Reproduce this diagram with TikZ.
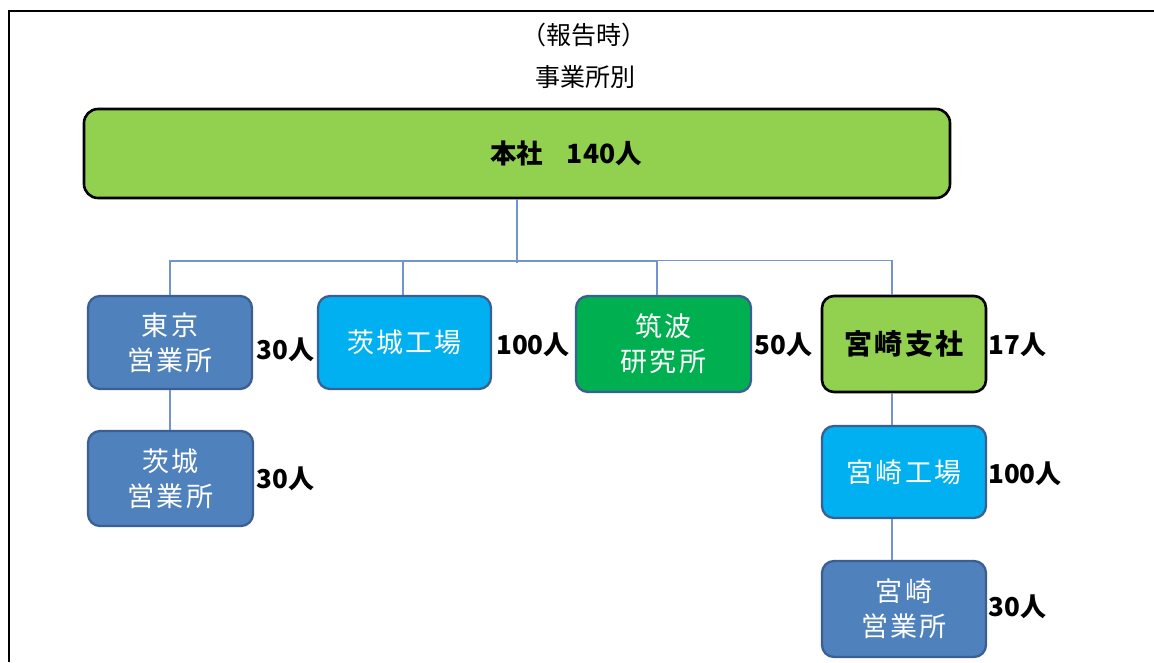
\documentclass[tikz,border=0pt]{standalone}
\usepackage{fontspec}
\setmainfont{Noto Sans CJK JP}
\newfontfamily\boxfont[LetterSpace=8]{Noto Sans CJK JP}
\definecolor{headgreen}{HTML}{92D050}
\definecolor{boxblue}{HTML}{4F81BD}
\definecolor{boxcyan}{HTML}{00B0F0}
\definecolor{boxgreen}{HTML}{00B050}
\definecolor{edgeblue}{HTML}{3B5F92}
\definecolor{connblue}{HTML}{7394CC}
\tikzset{
  unitbox/.style={rectangle, rounded corners=12pt, draw=edgeblue, line width=2.3pt,
    text=white, align=center, inner sep=0pt,
    font=\boxfont\fontsize{27}{35}\selectfont},
  blackbox/.style={rectangle, rounded corners=12pt, draw=black, line width=2.6pt,
    fill=headgreen, text=black, align=center, inner sep=0pt,
    font=\boxfont\bfseries\fontsize{28}{35}\selectfont},
  count/.style={text=black, inner sep=0pt, font=\bfseries\fontsize{26}{30}\selectfont},
  conn/.style={draw=connblue, line width=1.3pt},
  title/.style={text=black, inner sep=0pt, font=\fontsize{25}{28}\selectfont}
}
\begin{document}
\begin{tikzpicture}[x=1pt,y=-1pt]
\useasboundingbox (0,0) rectangle (1154,662);
% frame
\draw[line width=2pt] (9,662) -- (9,11) -- (1154,11);
% titles
\node[title] (t1) at (584,35) {（報告時）};
\node[title] (t2) at (585,77) {事業所別};
% head office
\node[blackbox, rounded corners=14pt, minimum width=866pt, minimum height=89pt, font=\bfseries\fontsize{26.5}{30}\selectfont]
  (head) at (517,153.5) {\hspace*{98pt}本社\hspace{0.9em}140人};
% row 1
\node[unitbox, fill=boxblue, minimum width=164pt, minimum height=93pt] (tokyo) at (170,342.5) {東京\\営業所};
\node[unitbox, fill=boxcyan, minimum width=173pt, minimum height=93pt] (ibaf) at (404.5,342.5) {茨城工場};
\node[unitbox, fill=boxgreen, minimum width=175pt, minimum height=96pt] (tsukuba) at (663.5,344) {筑波\\研究所};
\node[blackbox, minimum width=164pt, minimum height=96pt] (miya) at (904,344) {宮崎支社};
% row 2 and 3
\node[unitbox, fill=boxblue, minimum width=165pt, minimum height=95pt] (ibas) at (170.5,478.5) {茨城\\営業所};
\node[unitbox, fill=boxcyan, minimum width=164pt, minimum height=92pt] (miyaf) at (904,472) {宮崎工場};
\node[unitbox, fill=boxblue, minimum width=164pt, minimum height=96pt] (miyas) at (904,609) {宮崎\\営業所};
% counts
\node[count] (c1) at (285.5,350) {30人};
\node[count] (c2) at (533,345) {100人};
\node[count] (c3) at (783.5,345) {50人};
\node[count] (c4) at (1017.5,345) {17人};
\node[count] (c5) at (285.5,479) {30人};
\node[count] (c6) at (1025,474) {100人};
\node[count] (c7) at (1017.5,607) {30人};
% connectors
\coordinate (bus) at ([yshift=-64pt]head.south);
\draw[conn] (head.south) -- (bus);
\draw[conn] (tokyo.north) -- ++(0,-34) -| (bus);
\draw[conn] ([xshift=-1.5pt]ibaf.north) -- ++(0,-34) -| (bus);
\draw[conn] ([xshift=-6.5pt]tsukuba.north) -- ++(0,-34) -| (bus);
\draw[conn] ([xshift=-12pt]miya.north) -- ++(0,-34) -| (bus);
\draw[conn] (tokyo.south) -- (ibas.north -| tokyo.south);
\draw[conn] ([xshift=-12pt]miya.south) -- ([xshift=-12pt]miyaf.north);
\draw[conn] ([xshift=-12pt]miyaf.south) -- ([xshift=-12pt]miyas.north);
\end{tikzpicture}
\end{document}
